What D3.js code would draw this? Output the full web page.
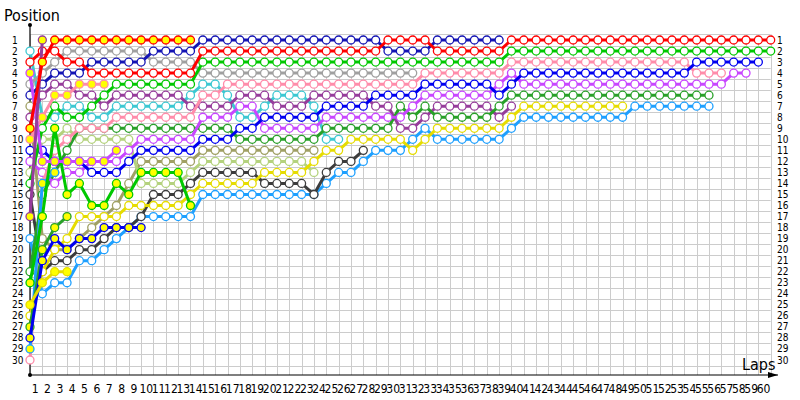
<!DOCTYPE html>
<html>
<head>
<meta charset="utf-8">
<script src="https://cdn.jsdelivr.net/npm/d3@7"></script>
<style>
  body { margin: 0; background: #fff; }
  text { font-family: "DejaVu Sans Condensed", "DejaVu Sans", sans-serif; fill: #000; }
</style>
</head>
<body>
<div id="chart"></div>
<script>
// lap axis and position axis
var lapCount = 60;
var posCount = 30;
var lapLabels = d3.range(1, 61);
var posLabels = d3.range(1, 31);

// position of each car from lap 0 (grid) to its last lap
var red        = [3,2,2,3,3,4,4,4,4,4,4,4,4,4, 2,2,2,2,2,2,2,2,2,2,2,2,2,2,2, 1,1,1,1, 2,2,2,2,2,2, 1,1,1,1,1,1,1,1,1,1,1,1,1,1,1,1,1,1,1,1,1,1];
var green      = [14,9,7,8,8,7,6,5,5,5,5,5,5,5, 3,3,3,3,3,3,3,3,3,3,3,3,3,3,3,3,3,3,3,3,3,3,3,3,3, 2,2,2,2,2,2,2,2,2,2,2,2,2,2,2,2,2,2,2,2,2,2];
var navy       = [6,5,4,4,4,3,3,3,3,3,2,2,2,2, 1,1,1,1,1,1,1,1,1,1,1,1,1,1,1, 2,2,2,2, 1,1,1,1,1,1];
var blue       = [11,11,12,12,12,13,13,13,12,11,11,11,11,11, 10,10,10, 9,9, 8,8,8,8,8, 7,7,7,7, 6,6,6,6, 5,5,5,5,5,5, 6, 5, 4,4,4,4,4,4,4,4,4,4,4,4,4,4, 3,3,3,3,3,3];
var gray       = [5,4,3,2,2,2,2,2,2,2,3,3,3,3, 4,4,4,4,4,4,4,4,4,4,4,4,4,4,4,4,4,4];
var pink       = [30,14,11,10,9,9,9,8,8,8,8,8,8,8, 6,6, 5,5,5,5,5,5,5,5,5,5,5,5,5,5,5,5, 4,4,4,4,4,4,4, 3,3,3,3,3,3,3,3,3,3,3,3,3,3,3, 4,4,4];
var magenta    = [12,13,14,13,13,12,12,12,11,10,10,10,10,10, 8,8,8, 7,7, 9,9,9,9,9, 8,8,8,8,8,8,8, 7, 6,6,6,6,6,6, 5, 4, 5,5,5,5,5,5,5,5,5,5,5,5,5,5,5,5,5, 4,4];
var darkGreen  = [22,15,13,11,9,9,9,9,9,9,9,9,9,9, 9,9,9, 10,10,10,10,10,10,10, 9,9,9,9,9,9, 7, 8, 7, 8,8,8,8,8, 7, 6,6,6,6,6,6,6,6,6,6,6,6,6,6,6,6,6];
var lightBlue  = [19,24,23,23,21,21,20,19,18,17,17,17,17,17, 15,15,15,15,15,15,15,15,15,15, 14, 13,13, 12, 11,11,11, 10, 9, 10,10,10,10,10,10, 9, 8,8,8,8,8,8,8,8,8, 7,7,7,7,7,7,7];
var yellow     = [26,22,20,19,17,17,17,17,16,16,16,16,16,15, 14,14,14,14,14, 13,13,13,13, 12, 11,11, 10,10,10,10,10, 11, 10, 9,9,9,9,9,9, 8, 7,7,7,7,7,7,7,7,7];
var cyan       = [2,8,8,7,7,8,8,7,7,7,7,7,7,6, 5,5, 6, 8,8, 7, 6,6,6, 7, 10,10];
var olive      = [7,19,20,20,19,18,17,16,14,12,12,12,12,12, 11,11,11,11,11,11,11,11,11,11];
var purple     = [8,6,5,5,6,6,7,6,6,6,6,6,6,7, 7,7,7, 6,6,6, 7,7,7, 6,6,6,6,6, 7,7, 9,9, 8, 7,7,7,7,7, 8, 7];
var lightGreen = [13,10,10,9,10,10,10,10,10,14,14,14,14,13, 12,12,12,12,12,12,12,12,12, 13];
var darkGray   = [15,22,21,21,20,20,19,18,18,17,15,15,15,14, 13,13,13,13,13, 14,14,14,14, 15, 13, 12,12, 11];
var redOut     = [9,3,1,1,1,1,1,1,1,1,1,1,1,1];
var magentaOut = [4,12,12,12,12,12,12,11];
var pinkOut    = [10,8,6,6,5,5,5];
var yellowOut  = [25,23,22,22];
var greenOut   = [23,17,9,15,14,16,16,14,15,13,13,13,13,16];
var blueOut    = [28,21,19,20,19,19,18,18,18,18];
var purpleOut  = [17,1];
var greenOut2  = [27,20,18,17];
var lightBlueOut = [29,14,13];

// line colour, and whether the car dropped out (yellow filled markers)
var cars = [
  {values: lightBlue,  color: "#1ea0ff", out: false},
  {values: darkGray,   color: "#3c3c3c", out: false},
  {values: olive,      color: "#a0a064", out: false},
  {values: lightGreen, color: "#b4d27d", out: false},
  {values: cyan,       color: "#3cc8d2", out: false},
  {values: purple,     color: "#963c9b", out: false},
  {values: gray,       color: "#a0a0a0", out: false},
  {values: yellow,     color: "#e6dc00", out: false},
  {values: darkGreen,  color: "#28a028", out: false},
  {values: magenta,    color: "#c846ff", out: false},
  {values: pink,       color: "#ff8caa", out: false},
  {values: blue,       color: "#0000f0", out: false},
  {values: navy,       color: "#1414b4", out: false},
  {values: green,      color: "#00c800", out: false},
  {values: red,        color: "#ff0000", out: false},
  {values: lightBlueOut, color: "#1ea0ff", out: true},
  {values: greenOut2,  color: "#28a028", out: true},
  {values: blueOut,    color: "#0000f0", out: true},
  {values: greenOut,   color: "#00c800", out: true},
  {values: yellowOut,  color: "#e6dc00", out: true},
  {values: pinkOut,    color: "#ff8caa", out: true},
  {values: magentaOut, color: "#c846ff", out: true},
  {values: purpleOut,  color: "#963c9b", out: true},
  {values: redOut,     color: "#ff0000", out: true}
];

var svgWidth = 800;
var svgHeight = 400;

var svg = d3.select("#chart").append("svg")
    .attr("width", svgWidth)
    .attr("height", svgHeight);

var xScale = d3.scaleLinear().domain([0, lapCount]).range([30, 770.7]);
var yScale = d3.scaleLinear().domain([1, posCount]).range([40, 360]);
var axisY = 375;

// grid
var grid = svg.append("g").attr("stroke", "#cccccc").attr("stroke-width", 1);
grid.selectAll(".vline")
  .data(d3.range(0, lapCount + 1))
  .enter().append("line")
  .attr("x1", d => Math.round(xScale(d)) + 0.5)
  .attr("x2", d => Math.round(xScale(d)) + 0.5)
  .attr("y1", yScale(0.5))
  .attr("y2", axisY);
grid.selectAll(".hline")
  .data(d3.range(0.5, posCount + 1, 1))
  .enter().append("line")
  .attr("x1", xScale(0))
  .attr("x2", xScale(lapCount))
  .attr("y1", d => Math.round(yScale(d)) + 0.5)
  .attr("y2", d => Math.round(yScale(d)) + 0.5);

// axes
svg.append("line")
  .attr("x1", xScale(0)).attr("x2", xScale(0))
  .attr("y1", axisY).attr("y2", 25)
  .attr("stroke", "#000").attr("stroke-width", 1.2);
svg.append("line")
  .attr("x1", xScale(0)).attr("x2", 778)
  .attr("y1", axisY).attr("y2", axisY)
  .attr("stroke", "#000").attr("stroke-width", 1.2);
svg.append("path")
  .attr("d", `M778,${axisY} l-10,-3 l0,6 z`)
  .attr("fill", "#000");
svg.append("circle").attr("cx", xScale(0)).attr("cy", 25).attr("r", 2).attr("fill", "#000");
svg.append("circle").attr("cx", xScale(0)).attr("cy", axisY).attr("r", 2).attr("fill", "#000");

svg.append("text").attr("x", 4).attr("y", 21).attr("font-size", "16px").text("Position");
svg.append("text").attr("x", 742).attr("y", 370).attr("font-size", "16px").text("Laps");

// tick labels
svg.selectAll(".lapLabel")
  .data(lapLabels)
  .enter().append("text")
  .attr("x", d => xScale(d - 0.5) - 1)
  .attr("y", 393)
  .attr("text-anchor", "middle")
  .attr("font-size", "12px")
  .text(d => d);

[12, 777].forEach(function(xPos) {
  svg.append("g").selectAll("text")
    .data(posLabels)
    .enter().append("text")
    .attr("x", xPos)
    .attr("y", d => yScale(d))
    .attr("dy", "0.35em")
    .attr("font-size", "10px")
    .text(d => d);
});

// lines and markers
var line = d3.line()
  .x((d, i) => xScale(i))
  .y(d => yScale(d));

var carGroups = svg.selectAll(".car")
  .data(cars)
  .enter().append("g");

carGroups.append("path")
  .attr("d", d => line(d.values))
  .attr("fill", "none")
  .attr("stroke", d => d.color)
  .attr("stroke-width", 3);

carGroups.each(function(car) {
  d3.select(this).selectAll("circle")
    .data(car.values)
    .enter().append("circle")
    .attr("cx", (d, i) => xScale(i))
    .attr("cy", d => yScale(d))
    .attr("r", 4)
    .attr("fill", car.out ? "#ffff00" : "#ffffff")
    .attr("stroke", car.color)
    .attr("stroke-width", 1.3);
});
</script>
</body>
</html>
